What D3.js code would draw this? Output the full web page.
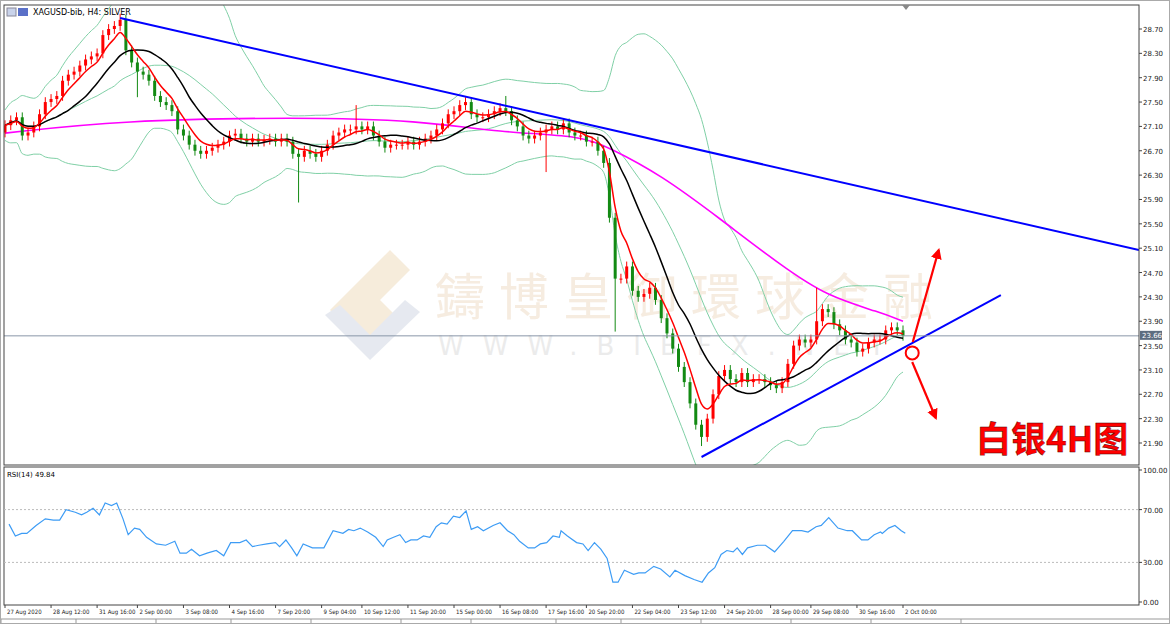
<!DOCTYPE html>
<html><head><meta charset="utf-8">
<script src="https://cdn.jsdelivr.net/npm/d3@7"></script>
<style>body{margin:0;background:#fff}svg{display:block}text{font-family:"DejaVu Sans",sans-serif}</style>
</head><body><svg id="c" width="1170" height="624"></svg>
<script>
const closes=[27.12,27.2,27.25,26.95,27.0,27.1,27.3,27.5,27.55,27.6,27.85,27.95,28.0,28.1,28.2,28.25,28.3,28.6,28.7,28.75,28.85,28.35,28.15,28.0,27.95,27.85,27.6,27.5,27.45,27.35,27.05,26.95,26.8,26.7,26.65,26.7,26.75,26.8,26.85,26.95,26.98,26.9,26.85,26.9,26.85,26.88,26.9,26.85,26.9,26.85,26.65,26.6,26.7,26.65,26.6,26.7,26.8,26.95,27.0,27.05,27.05,27.1,27.05,27.1,26.95,26.85,26.75,26.8,26.8,26.8,26.85,26.8,26.85,26.9,26.95,27.05,27.15,27.3,27.35,27.45,27.5,27.3,27.25,27.25,27.3,27.35,27.4,27.35,27.2,27.1,26.95,26.9,26.95,27.0,27.05,27.1,27.05,27.15,27.0,26.95,26.95,26.85,26.85,26.7,26.5,25.6,24.6,24.6,24.8,24.4,24.3,24.35,24.45,24.25,23.95,23.7,23.45,23.15,22.9,22.55,22.2,22.0,22.3,22.7,23.0,23.1,22.95,22.9,23.05,22.9,22.95,22.95,22.9,22.85,22.8,22.9,23.2,23.5,23.6,23.55,23.6,23.9,24.1,24.05,23.85,23.75,23.6,23.55,23.4,23.45,23.55,23.6,23.6,23.75,23.8,23.75,23.66];
const firstOpen=27.0;
const wick=0.08;
const spikes=[[20,28.95,null],[23,null,27.58],[51,null,25.85],[61,27.45,null],[94,null,26.35],[106,null,23.73],[121,null,21.85],[141,24.45,null],[87,27.6,null]];
const magenta=[[0,26.99],[20,27.2],[51,27.25],[72,27.2],[86,27.0],[100,26.95],[105,26.75],[114,26.3],[124,25.6],[135,24.8],[143,24.3],[152,24.05],[156,23.9]];
const rsi=[[0.7,59],[1.8,50],[2.9,52],[3.8,52],[5.4,58],[7,63],[8.4,62],[9.5,62],[10.6,70],[12.2,68],[13.3,66],[14.2,68],[15.3,71],[16.4,66],[17.4,75],[18.5,73],[19.4,75],[20.5,63],[21.4,51],[22.5,56],[23.4,55],[24.6,49],[26.3,44],[27.9,43],[29.5,46],[30.4,37],[31.5,37],[32.4,40],[33.8,35],[35.1,37],[36.7,39],[38,35],[39.2,45],[40.8,45],[41.9,47],[43,42],[44.1,43],[45.5,44],[47,45],[47.7,42],[48.8,47],[49.8,41],[50.7,35],[51.8,44],[53.4,41],[55.4,41],[57,54],[58.7,52],[59.7,55],[60.6,54],[61.7,56],[63,53],[64.4,49],[65.7,42],[66.4,47],[67.5,49],[68.6,51],[69.6,45],[70.5,47],[71.6,47],[72.7,50],[73.8,49],[74.9,57],[75.8,60],[76.8,59],[77.9,65],[79,64],[80.1,69],[81,55],[82.1,57],[83.1,54],[84.8,58],[86,60],[87.3,54],[88.4,51],[89.4,46],[90.9,41],[92,41],[93,44],[94.1,45],[95.2,50],[96.3,49],[96.6,54],[97.7,50],[99.3,45],[100.4,44],[101.3,39],[102.4,45],[103.5,40],[104.6,33],[105.6,15],[106.5,15],[107.6,24],[109.2,21],[110.1,22],[111.2,22],[112.7,27],[113.9,25],[115.5,19],[116.4,24],[118.1,20],[119.7,17],[121.1,15],[122.2,22],[123.3,26],[124.4,36],[125.4,39],[126.5,38],[127.2,41],[128.1,36],[129,41],[130.7,43],[132.1,43],[133.7,38],[135.3,46],[136.8,54],[138.4,54],[139.5,53],[140.9,57],[141.8,58],[143.1,64],[144.7,56],[146.3,54],[147.2,54],[148.8,47],[149.9,47],[151,51],[152.1,53],[152.4,52],[153.5,56],[154.6,58],[155.7,54],[156.4,52]];
const priceTicks=[28.70,28.30,27.90,27.50,27.10,26.70,26.30,25.90,25.50,25.10,24.70,24.30,23.90,23.50,23.10,22.70,22.30,21.90];
const rsiTicks=[100,70,30,0];
const dateLabels=["27 Aug 2020","28 Aug 12:00","31 Aug 16:00","2 Sep 00:00","3 Sep 08:00","4 Sep 16:00","7 Sep 20:00","9 Sep 04:00","10 Sep 12:00","11 Sep 20:00","15 Sep 00:00","16 Sep 08:00","17 Sep 16:00","20 Sep 20:00","22 Sep 04:00","23 Sep 12:00","24 Sep 20:00","28 Sep 00:00","29 Sep 08:00","30 Sep 16:00","2 Oct 00:00"];
const dateIdx=[0,8,16,23,31,39,47,55,62,70,78,86,94,101,109,117,125,133,140,148,156];
const upperTrend=[[20,28.88],[197,25.07]];
const lowerTrend=[[121,21.67],[173,24.33]];
const lastPrice=23.66;
const arrowUp=[[157.7,23.56],[162.2,25.07]];
const arrowDown=[[157.6,23.23],[161.7,22.31]];
const circlePt=[157.6,23.38];
const title="XAGUSD-bib, H4:  SILVER";
const rsiTitle="RSI(14) 49.84";
const bigLabel="白银4H图";

const svg=d3.select("#c");
const L=4,R=1139,T=5,B=465,RT=467,RB=605;
const x=d3.scaleLinear().domain([0,156]).range([5,903]);
const y=d3.scaleLinear().domain([21.90,28.70]).range([443,29]);
const yr=d3.scaleLinear().domain([0,100]).range([602,470]);

svg.append("rect").attr("x",0).attr("y",0).attr("width",1170).attr("height",624).attr("fill","#fff");
svg.append("defs").html(`<clipPath id="cp"><rect x="${L}" y="${T}" width="${R-L}" height="${B-T}"/></clipPath><clipPath id="cr"><rect x="${L}" y="${RT}" width="${R-L}" height="${RB-RT}"/></clipPath>
<marker id="ah" viewBox="0 0 10 10" refX="8" refY="5" markerWidth="5" markerHeight="5" orient="auto"><path d="M0,0L10,5L0,10z" fill="#ff0000"/></marker>`);

const wm=svg.append("g").attr("opacity",0.35);
wm.append("path").attr("d","M390,250 L330,310 L370,350 L400,320 L380,300 L410,270Z").attr("fill","#e8c99a");
wm.append("path").attr("d","M325,315 L370,360 L420,312 L405,300 L370,335 L340,305Z").attr("fill","#b9c3d6");
wm.append("text").attr("x",435).attr("y",315).attr("font-size",50).attr("fill","#e6c9a8").attr("letter-spacing",14).style("font-family","'Noto Sans CJK TC'").text("鑄博皇御環球金融");
wm.append("text").attr("x",438).attr("y",355).attr("font-size",26).attr("fill","#c8c8c8").attr("letter-spacing",19).text("WWW.BIBFX.NET");

const g=svg.append("g").attr("clip-path","url(#cp)");
const n=closes.length;
const mid=[],up=[],dn=[];
for(let i=0;i<n;i++){const w=closes.slice(Math.max(0,i-19),i+1);const m=d3.mean(w);const s=Math.sqrt(d3.mean(w,v=>(v-m)**2));mid.push(m);up.push(m+2*s+0.25);dn.push(m-2*s-0.25);}
const line=d3.line().x((d,i)=>x(i)).y(d=>y(d)).curve(d3.curveMonotoneX);
[up,dn].forEach(a=>g.append("path").attr("d",line(a)).attr("fill","none").attr("stroke","#7fd0a6").attr("stroke-width",1));
g.append("path").attr("d",line(mid)).attr("fill","none").attr("stroke","#7fd0a6").attr("stroke-width",1);
g.append("path").attr("d",d3.line().x(d=>x(d[0])).y(d=>y(d[1])).curve(d3.curveBasis)(magenta)).attr("fill","none").attr("stroke","#ff00ff").attr("stroke-width",1.6);
closes.forEach((c,i)=>{const o=i?closes[i-1]:firstOpen;let hi=Math.max(o,c)+wick,lo=Math.min(o,c)-wick;
 spikes.forEach(s=>{if(s[0]===i){if(s[1]!=null)hi=s[1];if(s[2]!=null)lo=s[2];}});
 const col=c>=o?"#ff0000":"#138a13";
 g.append("line").attr("x1",x(i)).attr("x2",x(i)).attr("y1",y(hi)).attr("y2",y(lo)).attr("stroke",col).attr("stroke-width",1);
 g.append("rect").attr("x",x(i)-1.5).attr("width",3).attr("y",y(Math.max(o,c))).attr("height",Math.max(1,y(Math.min(o,c))-y(Math.max(o,c)))).attr("fill",col);});
const ema=[];closes.forEach((c,i)=>ema.push(i?ema[i-1]+(c-ema[i-1])*2/6:c));
const sma=closes.map((c,i)=>d3.mean(closes.slice(Math.max(0,i-11),i+1)));
g.append("path").attr("d",line(sma)).attr("fill","none").attr("stroke","#000").attr("stroke-width",1.5);
g.append("path").attr("d",line(ema)).attr("fill","none").attr("stroke","#ff0000").attr("stroke-width",1.5);
const pl=d3.line().x(d=>x(d[0])).y(d=>y(d[1]));
g.append("path").attr("d",pl(upperTrend)).attr("stroke","#0000ff").attr("stroke-width",2).attr("fill","none");
g.append("path").attr("d",pl(lowerTrend)).attr("stroke","#0000ff").attr("stroke-width",2).attr("fill","none");
g.append("line").attr("x1",L).attr("x2",R).attr("y1",y(lastPrice)).attr("y2",y(lastPrice)).attr("stroke","#8a96a8").attr("stroke-width",1);
[arrowUp,arrowDown].forEach(a=>g.append("path").attr("d",pl(a)).attr("stroke","#ff0000").attr("stroke-width",2.2).attr("fill","none").attr("marker-end","url(#ah)"));
g.append("circle").attr("cx",x(circlePt[0])).attr("cy",y(circlePt[1])).attr("r",6.5).attr("fill","none").attr("stroke","#ff0000").attr("stroke-width",2);
svg.append("text").attr("x",976).attr("y",452).attr("font-size",35).attr("font-weight","bold").attr("fill","#ff0000").attr("stroke","#400").attr("stroke-width",0.4).style("font-family","'Noto Sans CJK SC'").text(bigLabel);

svg.append("rect").attr("x",L).attr("y",T).attr("width",R-L).attr("height",B-T).attr("fill","none").attr("stroke","#444");
svg.append("rect").attr("x",L).attr("y",RT).attr("width",R-L).attr("height",RB-RT).attr("fill","none").attr("stroke","#444");
svg.append("path").attr("d","M902,5 l4,5 l4,-5z").attr("fill","#888");
svg.append("text").attr("x",33).attr("y",15).attr("font-size",8).text(title);
svg.append("rect").attr("x",7).attr("y",8).attr("width",9).attr("height",8).attr("fill","#c9d3ea").attr("stroke","#889");
svg.append("rect").attr("x",18).attr("y",8).attr("width",10).attr("height",8).attr("fill","#5a70c8");
priceTicks.forEach(p=>{svg.append("line").attr("x1",R).attr("x2",R+3).attr("y1",y(p)).attr("y2",y(p)).attr("stroke","#444");
 svg.append("text").attr("x",R+4).attr("y",y(p)+3).attr("font-size",7).attr("fill","#222").text(p.toFixed(2));});
svg.append("rect").attr("x",R+1).attr("y",y(lastPrice)-5).attr("width",22).attr("height",9).attr("fill","#5d6d80");
svg.append("text").attr("x",R+3).attr("y",y(lastPrice)+2.5).attr("font-size",7).attr("fill","#fff").text(lastPrice.toFixed(2));
const gr=svg.append("g").attr("clip-path","url(#cr)");
[70,30].forEach(v=>gr.append("line").attr("x1",L).attr("x2",R).attr("y1",yr(v)).attr("y2",yr(v)).attr("stroke","#bbb").attr("stroke-dasharray","2,2"));
gr.append("path").attr("d",d3.line().x(d=>x(d[0])).y(d=>yr(d[1]))(rsi)).attr("fill","none").attr("stroke","#3d9cf5").attr("stroke-width",1.2);
svg.append("text").attr("x",7).attr("y",477).attr("font-size",7).text(rsiTitle);
rsiTicks.forEach(v=>{svg.append("line").attr("x1",R).attr("x2",R+3).attr("y1",yr(v)).attr("y2",yr(v)).attr("stroke","#444");
 svg.append("text").attr("x",R+4).attr("y",yr(v)+3).attr("font-size",7).attr("fill","#222").text(v.toFixed(2));});
dateLabels.forEach((d,k)=>{const xx=x(dateIdx[k]);svg.append("line").attr("x1",xx).attr("x2",xx).attr("y1",RB).attr("y2",RB+3).attr("stroke","#444");
 svg.append("text").attr("x",xx+2).attr("y",614).attr("font-size",6).attr("fill","#222").style("font-family","'DejaVu Sans Condensed','Liberation Sans Narrow',sans-serif").text(d);});
svg.append("line").attr("x1",0).attr("x2",1170).attr("y1",619).attr("y2",619).attr("stroke","#999");
[0,75,155,230,310,400,470,555,620,700,790,870,960].forEach(t=>svg.append("line").attr("x1",t+1).attr("x2",t+1).attr("y1",619).attr("y2",624).attr("stroke","#999"));
svg.append("rect").attr("x",0.5).attr("y",0.5).attr("width",1169).attr("height",623).attr("fill","none").attr("stroke","#aaa");
</script></body></html>
